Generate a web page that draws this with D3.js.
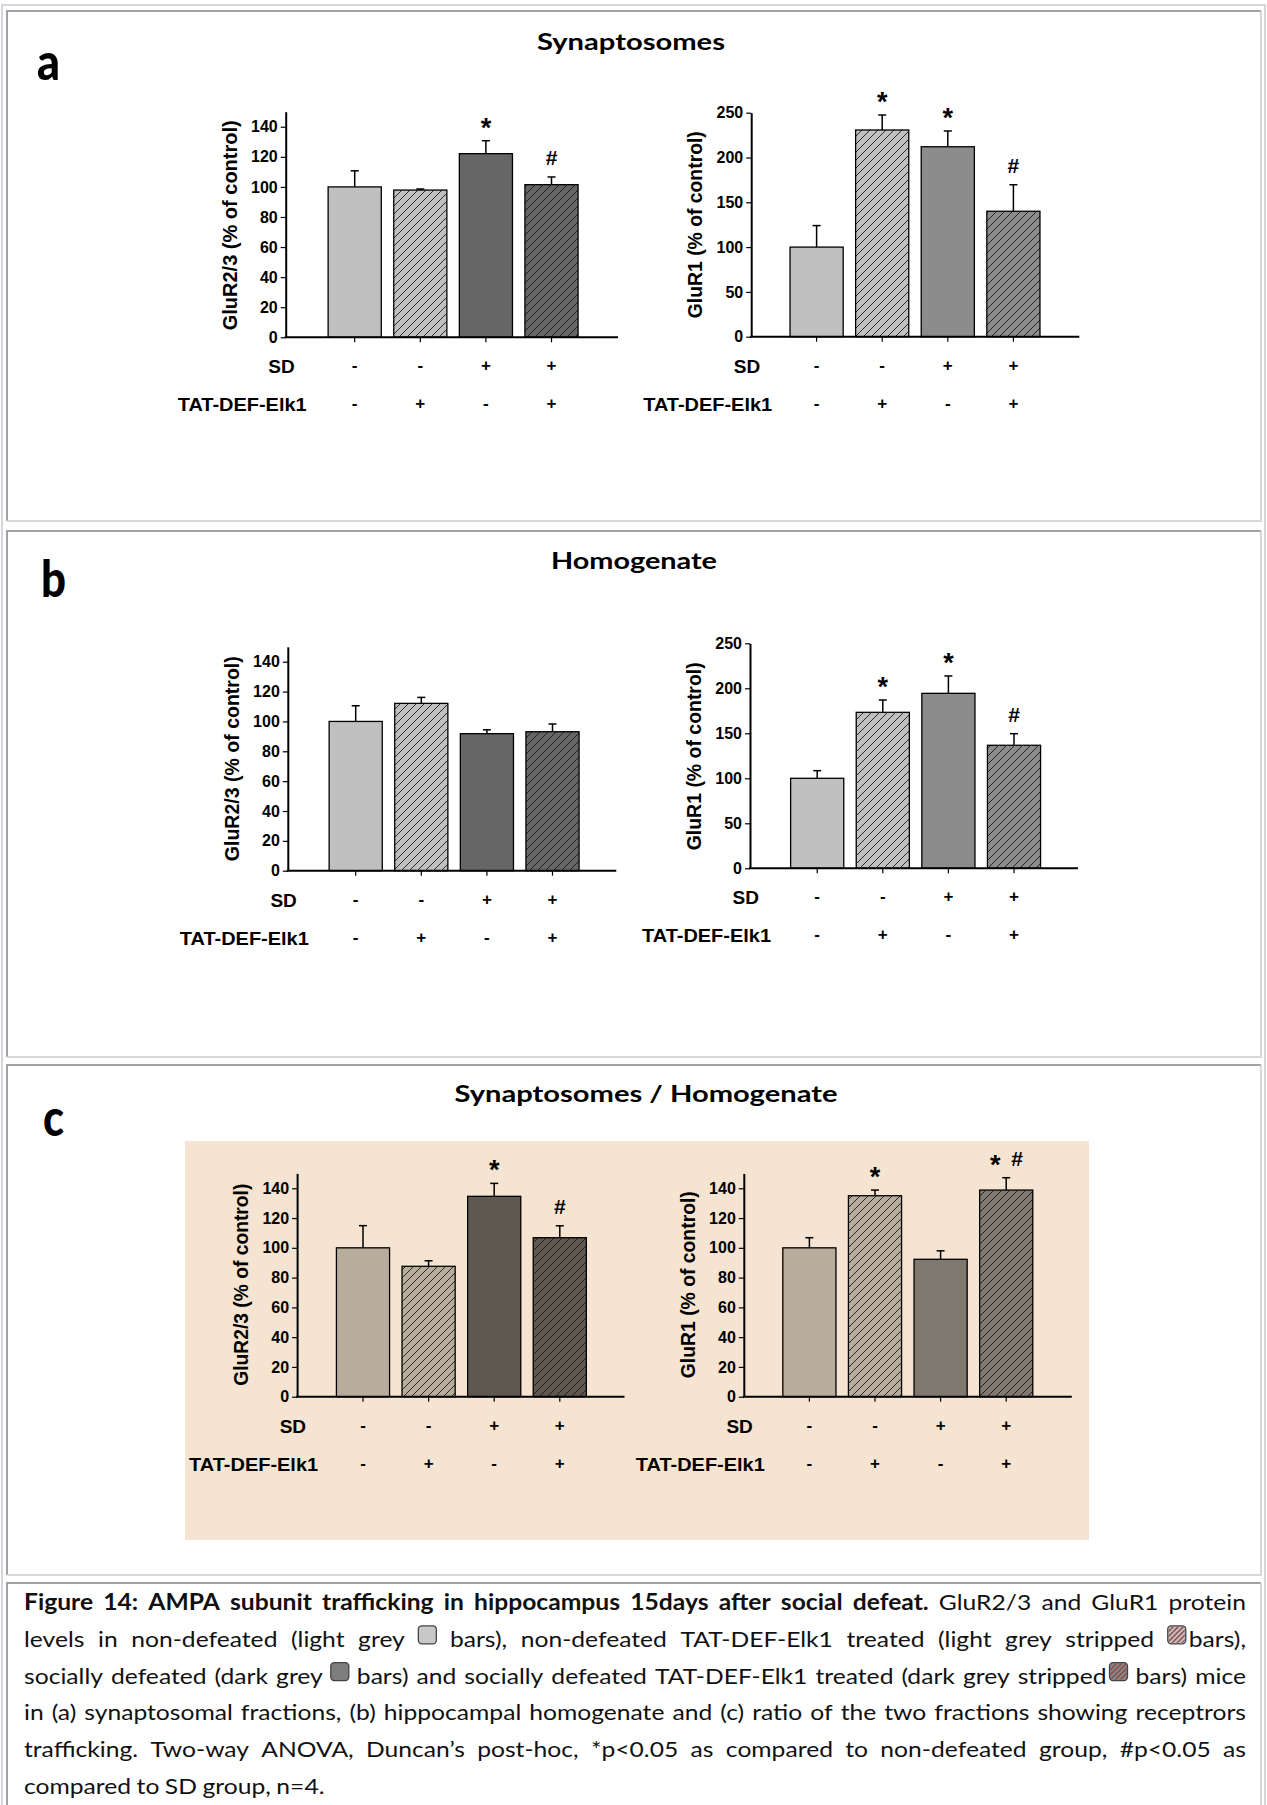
<!DOCTYPE html>
<html><head><meta charset="utf-8">
<script src="https://cdn.jsdelivr.net/npm/d3@7"></script>
<style>body{margin:0;background:#fff} svg{display:block}</style>
</head><body>
<svg id="fig" width="1267" height="1805"></svg>
<script>
// ---------------- DATA ----------------
const groups = ["ND", "ND+TAT", "SD", "SD+TAT"];
const sdRow = ["-", "-", "+", "+"];
const tatRow = ["-", "+", "-", "+"];
const hatched = [false, true, false, true];
const ticks0to140 = [0, 20, 40, 60, 80, 100, 120, 140];
const ticks0to250 = [0, 50, 100, 150, 200, 250];

const synGluR23 = [100, 97.9, 122.1, 101.5];
const synGluR23Sem = [10.7, 0.7, 8.6, 5.1];
const synGluR23Sig = ["", "", "*", "#"];
const synGluR1 = [100, 230.7, 212, 140];
const synGluR1Sem = [24, 16.7, 17.6, 29.6];
const synGluR1Sig = ["", "*", "*", "#"];

const homGluR23 = [100, 112.1, 91.8, 93.1];
const homGluR23Sem = [10.5, 4.0, 2.6, 5.2];
const homGluR23Sig = ["", "", "", ""];
const homGluR1 = [100, 173.3, 194.4, 136.7];
const homGluR1Sem = [8.5, 13.7, 19.3, 12.9];
const homGluR1Sig = ["", "*", "*", "#"];

const ratioGluR23 = [100, 87.6, 134.6, 106.8];
const ratioGluR23Sem = [14.9, 3.7, 8.7, 8.0];
const ratioGluR23Sig = ["", "", "*", "#"];
const ratioGluR1 = [100, 135.0, 92.3, 138.8];
const ratioGluR1Sem = [6.8, 3.8, 5.7, 8.3];
const ratioGluR1Sig = ["", "*", "", "*#"];

const panelTitles = ["Synaptosomes", "Homogenate", "Synaptosomes / Homogenate"];
const panelLetters = ["a", "b", "c"];
const labelGluR23 = "GluR2/3 (% of control)";
const labelGluR1 = "GluR1 (% of control)";

const captionLines = [
  [{t: "Figure 14: AMPA subunit trafficking in hippocampus 15days after social defeat.", b: true}, {t: "GluR2/3 and GluR1 protein"}],
  [{t: "levels in non-defeated (light grey [i0] bars), non-defeated TAT-DEF-Elk1 treated (light grey stripped [i1]bars),"}],
  [{t: "socially defeated (dark grey [i2] bars) and socially defeated TAT-DEF-Elk1 treated (dark grey stripped[i3] bars) mice"}],
  [{t: "in (a) synaptosomal fractions, (b) hippocampal homogenate and (c) ratio of the two fractions showing receptrors"}],
  [{t: "trafficking. Two-way ANOVA, Duncan\u2019s post-hoc, *p<0.05 as compared to non-defeated group, #p<0.05 as"}],
  [{t: "compared to SD group, n=4."}]
];

// ---------------- LAYOUT ----------------
const svg = d3.select("#fig");
const defs = svg.append("defs");
const AX = "'Liberation Sans', Arial, sans-serif";
const CAL = "Lato, 'Open Sans', sans-serif";

function hatch(color) {
  const id = "h" + color.replace("#", "");
  if (defs.select("#" + id).empty()) {
    const p = defs.append("pattern").attr("id", id).attr("patternUnits", "userSpaceOnUse")
      .attr("width", 8).attr("height", 8);
    p.append("rect").attr("width", 8).attr("height", 8).attr("fill", color);
    p.append("path").attr("d", "M-2,2 L2,-2 M0,8 L8,0 M6,10 L10,6")
      .attr("stroke", "#1a1a1a").attr("stroke-width", 0.9);
  }
  return `url(#${id})`;
}

// table cells
const cellsY = [[11, 521], [531, 1057], [1065, 1575], [1583, 1812]];
svg.append("rect").attr("x", 2).attr("y", 5).attr("width", 1263).attr("height", 1810)
  .attr("fill", "none").attr("stroke", "#d6d6da").attr("stroke-width", 2);
cellsY.forEach(([t, b]) => {
  const L = 7, R = 1261;
  svg.append("path").attr("d", `M${L},${b} V${t} H${R}`).attr("fill", "none")
    .attr("stroke", "#a2a2a6").attr("stroke-width", 2);
  svg.append("path").attr("d", `M${R},${t} V${b} H${L}`).attr("fill", "none")
    .attr("stroke", "#d8d8dc").attr("stroke-width", 2);
});

// beige background of panel c
svg.append("rect").attr("x", 185).attr("y", 1141).attr("width", 904).attr("height", 399).attr("fill", "#f4e4d1");

// panel letters & titles
const letterPos = [[37, 80, 23], [41, 597, 25], [43, 1136, 21]];
panelLetters.forEach((l, i) => {
  svg.append("text").attr("x", letterPos[i][0]).attr("y", letterPos[i][1])
    .attr("font-family", CAL).attr("font-weight", 900).attr("font-size", 52)
    .attr("textLength", letterPos[i][2]).attr("lengthAdjust", "spacingAndGlyphs").text(l);
});
const titlePos = [[631, 50, 188], [634, 569, 166], [646, 1102, 383]];
panelTitles.forEach((t, i) => {
  svg.append("text").attr("x", titlePos[i][0]).attr("y", titlePos[i][1]).attr("text-anchor", "middle")
    .attr("font-family", CAL).attr("font-weight", 700).attr("font-size", 23)
    .attr("textLength", titlePos[i][2]).attr("lengthAdjust", "spacingAndGlyphs").text(t);
});

const greyL = ["#c0c0c0", "#c0c0c0", "#666666", "#666666"];
const greyR = ["#c0c0c0", "#c0c0c0", "#8c8c8c", "#8c8c8c"];
const beigeL = ["#b8ac9c", "#b8ac9c", "#5f5851", "#5f5851"];
const beigeR = ["#b8ac9c", "#b8ac9c", "#807970", "#807970"];

const charts = [
  {x0: 285.7, x1: 618, y0: 337.3, yMax: 111.7, max: 150, ticks: ticks0to140, first: 69, label: labelGluR23, labelLen: 210, m: synGluR23, e: synGluR23Sem, s: synGluR23Sig, fills: greyL},
  {x0: 751.2, x1: 1079.3, y0: 336.7, yMax: 112.7, max: 250, ticks: ticks0to250, first: 65.4, label: labelGluR1, labelLen: 187, m: synGluR1, e: synGluR1Sem, s: synGluR1Sig, fills: greyR},
  {x0: 287.8, x1: 616.3, y0: 870.7, yMax: 646.8, max: 150, ticks: ticks0to140, first: 67.9, label: labelGluR23, labelLen: 205, m: homGluR23, e: homGluR23Sem, s: homGluR23Sig, fills: greyL},
  {x0: 750, x1: 1078, y0: 868.3, yMax: 643.3, max: 250, ticks: ticks0to250, first: 67.2, label: labelGluR1, labelLen: 188, m: homGluR1, e: homGluR1Sem, s: homGluR1Sig, fills: greyR},
  {x0: 297.1, x1: 624.5, y0: 1396.7, yMax: 1173.4, max: 150, ticks: ticks0to140, first: 65.9, label: labelGluR23, labelLen: 202, m: ratioGluR23, e: ratioGluR23Sem, s: ratioGluR23Sig, fills: beigeL},
  {x0: 743.8, x1: 1071.8, y0: 1396.7, yMax: 1173.4, max: 150, ticks: ticks0to140, first: 65.6, label: labelGluR1, labelLen: 187, m: ratioGluR1, e: ratioGluR1Sem, s: ratioGluR1Sig, fills: beigeR}
];

const STEP = 65.6;
charts.forEach(c => {
  const g = svg.append("g");
  const y = d3.scaleLinear().domain([0, c.max]).range([c.y0, c.yMax]);
  const x = d3.scaleBand().domain(groups)
    .range([c.x0 + c.first - STEP / 2, c.x0 + c.first + 3.5 * STEP])
    .paddingInner(0.19).paddingOuter(0.095);
  const cx = d => x(d) + x.bandwidth() / 2;

  // bars
  g.selectAll("rect.bar").data(groups).join("rect").attr("class", "bar")
    .attr("x", d => x(d)).attr("width", x.bandwidth())
    .attr("y", (d, i) => y(c.m[i])).attr("height", (d, i) => c.y0 - y(c.m[i]))
    .attr("fill", (d, i) => hatched[i] ? hatch(c.fills[i]) : c.fills[i])
    .attr("stroke", "#000").attr("stroke-width", 1.3);

  // error bars
  groups.forEach((d, i) => {
    const top = y(c.m[i] + c.e[i]);
    g.append("line").attr("x1", cx(d)).attr("x2", cx(d)).attr("y1", y(c.m[i])).attr("y2", top)
      .attr("stroke", "#000").attr("stroke-width", 1.5);
    g.append("line").attr("x1", cx(d) - 4).attr("x2", cx(d) + 4).attr("y1", top).attr("y2", top)
      .attr("stroke", "#000").attr("stroke-width", 1.5);
    // significance marks
    const syms = c.s[i].split("");
    syms.forEach((sym, k) => {
      const off = syms.length > 1 ? (k - (syms.length - 1) / 2) * 22 : 0;
      g.append("text").attr("x", cx(d) + off).attr("y", top - (sym === "*" ? 4 : 12))
        .attr("text-anchor", "middle").attr("font-family", AX).attr("font-weight", 700)
        .attr("font-size", sym === "*" ? 27 : 21).text(sym);
    });
  });

  // y axis
  const ya = g.append("g").attr("transform", `translate(${c.x0},0)`)
    .call(d3.axisLeft(y).tickValues(c.ticks).tickSize(5).tickPadding(3).tickSizeOuter(0));
  ya.select(".domain").attr("stroke-width", 2);
  ya.selectAll(".tick line").attr("stroke-width", 1.2);
  ya.selectAll(".tick text").attr("font-family", AX).attr("font-weight", 700).attr("font-size", 16);

  // x axis line + ticks
  g.append("line").attr("x1", c.x0 - 1).attr("x2", c.x1).attr("y1", c.y0).attr("y2", c.y0)
    .attr("stroke", "#000").attr("stroke-width", 2);
  const xa = g.append("g").attr("transform", `translate(0,${c.y0})`)
    .call(d3.axisBottom(x).tickSize(5).tickFormat(""));
  xa.select(".domain").remove();
  xa.selectAll(".tick line").attr("stroke-width", 1.2);

  // sign rows
  const rowY1 = c.y0 + 34, rowY2 = c.y0 + 72;
  g.selectAll("text.sd").data(sdRow).join("text").attr("class", "sd")
    .attr("x", (d, i) => cx(groups[i])).attr("y", rowY1).attr("text-anchor", "middle")
    .attr("font-family", AX).attr("font-weight", 700).attr("font-size", 17).text(d => d);
  g.selectAll("text.tat").data(tatRow).join("text").attr("class", "tat")
    .attr("x", (d, i) => cx(groups[i])).attr("y", rowY2).attr("text-anchor", "middle")
    .attr("font-family", AX).attr("font-weight", 700).attr("font-size", 17).text(d => d);
  g.append("text").attr("x", c.x0 + 9).attr("y", rowY1 + 2).attr("text-anchor", "end")
    .attr("font-family", AX).attr("font-weight", 700).attr("font-size", 19).text("SD");
  g.append("text").attr("x", c.x0 + 21).attr("y", rowY2 + 2).attr("text-anchor", "end")
    .attr("font-family", AX).attr("font-weight", 700).attr("font-size", 19)
    .attr("textLength", 129).attr("lengthAdjust", "spacingAndGlyphs").text("TAT-DEF-Elk1");

  // y label
  g.append("text").attr("transform", `translate(${c.x0 - 56},${c.y0 - 112}) rotate(-90)`)
    .attr("text-anchor", "middle").attr("dy", "0.35em")
    .attr("font-family", AX).attr("font-weight", 700).attr("font-size", 20)
    .attr("textLength", c.labelLen).attr("lengthAdjust", "spacingAndGlyphs").text(c.label);
});

// ---------------- CAPTION ----------------
const iconFill = ["#c8c8c8", "#c6bebe", "#7e7e7e", "#8a8686"];
const iconStripe = [false, true, false, true];
const sp = defs.append("pattern").attr("id", "istripe").attr("patternUnits", "userSpaceOnUse")
  .attr("width", 5).attr("height", 5);
sp.append("path").attr("d", "M-1,1 L1,-1 M0,5 L5,0 M4,6 L6,4").attr("stroke", "#8a4848").attr("stroke-width", 1.4);

const capG = svg.append("g");
const CAPX = 24, CAPW = 1222, FS = 22;
captionLines.forEach((segs, li) => {
  const base = 1610 + li * 36.8;
  const justify = li < captionLines.length - 1;
  const toks = [];
  segs.forEach(s => {
    s.t.split(" ").filter(w => w.length).forEach(w => {
      w.split(/(\[i\d\])/).filter(p => p.length).forEach((p, pi) => {
        toks.push({p, bold: !!s.b, space: pi === 0 && toks.length > 0});
      });
    });
  });
  toks.forEach(t => {
    const m = t.p.match(/^\[i(\d)\]$/);
    if (m) { t.icon = +m[1]; t.w = 18; }
    else {
      t.el = capG.append("text").attr("y", base).attr("font-family", CAL)
        .attr("font-weight", t.bold ? 700 : 400).attr("font-size", FS).attr("fill", "#111").text(t.p);
      t.w = t.el.node().getComputedTextLength();
    }
  });
  const textW = d3.sum(toks.filter(t => t.icon == null), t => t.w);
  const iconW = d3.sum(toks.filter(t => t.icon != null), t => t.w);
  const nSp = toks.filter(t => t.space).length;
  const nGlue = toks.length - 1 - nSp;
  const GLUE = 3;
  let k = 1.12, gap = 5.5;
  if (justify) {
    gap = (CAPW - textW * k - iconW - nGlue * GLUE) / nSp;
    if (gap < 5) { gap = 5; k = (CAPW - iconW - nGlue * GLUE - nSp * gap) / textW; }
  }
  let xPos = CAPX;
  toks.forEach((t, i) => {
    if (i > 0) xPos += t.space ? gap : GLUE;
    if (t.icon != null) {
      capG.append("rect").attr("x", xPos).attr("y", base - 21).attr("width", 18).attr("height", 18)
        .attr("rx", 3.5).attr("fill", iconFill[t.icon]).attr("stroke", "#444").attr("stroke-width", 1.3);
      if (iconStripe[t.icon]) {
        capG.append("rect").attr("x", xPos + 1).attr("y", base - 20).attr("width", 16).attr("height", 16)
          .attr("rx", 3).attr("fill", "url(#istripe)");
      }
      xPos += t.w;
    } else {
      t.el.attr("x", xPos).attr("textLength", t.w * k).attr("lengthAdjust", "spacingAndGlyphs");
      xPos += t.w * k;
    }
  });
});
</script>
</body></html>
